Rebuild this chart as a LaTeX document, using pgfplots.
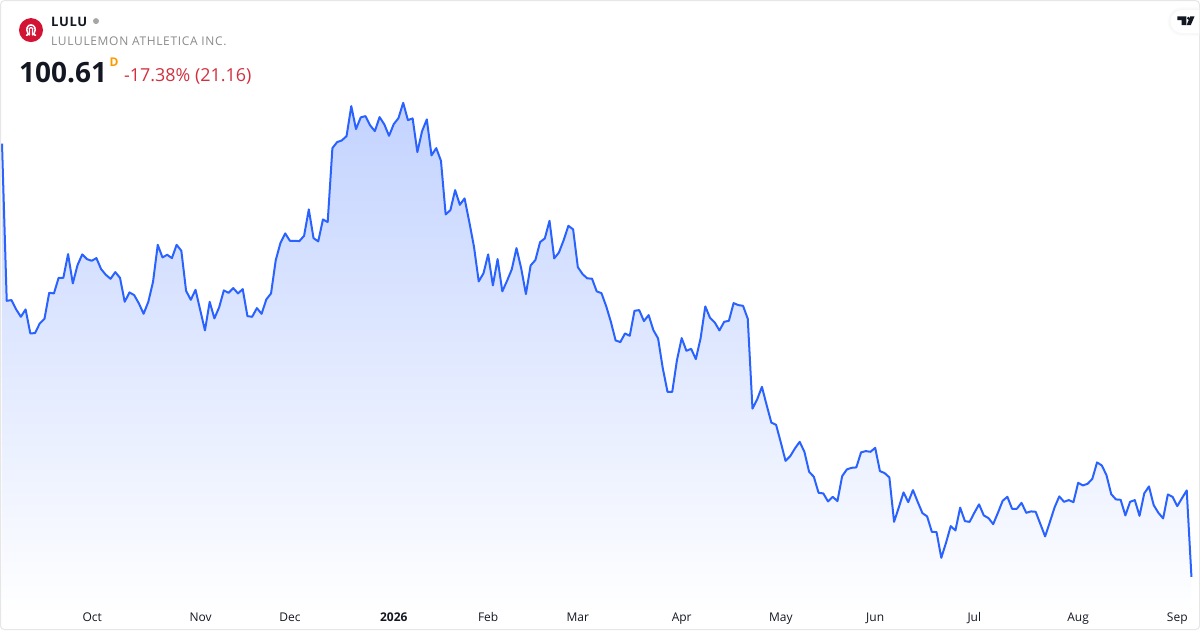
\documentclass[border=0pt]{standalone}
\usepackage{fontspec}
\setmainfont{Open Sans}
\newfontfamily\spaced[LetterSpace=5.5]{Open Sans}
\newfontfamily\spacedbold[LetterSpace=5,BoldFont={Open Sans Bold}]{Open Sans}
\usepackage{pgfplots}
\usepackage{pgfplotstable}
\pgfplotsset{compat=1.18}
\definecolor{tvblue}{HTML}{2962FF}
\definecolor{tvtop}{HTML}{C3D3FF}
\definecolor{tvtext}{HTML}{131722}
\definecolor{tvred}{HTML}{D2303F}
\definecolor{tvgray}{HTML}{8A8A8A}
\definecolor{tvorange}{HTML}{FF9800}
\definecolor{lulured}{HTML}{D31334}
\definecolor{frameg}{HTML}{E6E6E6}
\pgfplotstableread[row sep=\\]{
i y\\
0 143.5\\1 300.7\\2 300\\3 309.3\\4 316.7\\5 309.3\\6 333.3\\7 333\\8 323.3\\9 318.7\\
10 292.7\\11 293.3\\12 277.7\\13 277.7\\14 254\\15 283.3\\16 265\\17 254.3\\18 259\\19 260.7\\
20 258\\21 269\\22 274.7\\23 278.7\\24 272\\25 277.7\\26 301.7\\27 292.3\\28 295\\29 303.3\\
30 313.7\\31 301.7\\32 281.7\\33 244.7\\34 257.3\\35 254.7\\36 258\\37 244.7\\38 250.7\\39 290.7\\
40 299.7\\41 289.7\\42 310\\43 330.3\\44 301.7\\45 318.3\\46 307.3\\47 290.3\\48 292.7\\49 288\\
50 293.3\\51 289\\52 316\\53 316.7\\54 308\\55 313.7\\56 299.3\\57 293.3\\58 260\\59 242.7\\
60 233.3\\61 240.7\\62 240.7\\63 241\\64 235.7\\65 209.3\\66 238\\67 241.3\\68 219.3\\69 222\\
70 148\\71 142\\72 140.3\\73 136\\74 106\\75 129\\76 117.3\\77 116\\78 125.3\\79 131\\
80 117\\81 124.3\\82 135.7\\83 124\\84 118\\85 102.7\\86 120\\87 118.3\\88 152\\89 131\\
90 119.3\\91 155.3\\92 148\\93 160.7\\94 214.3\\95 210\\96 190\\97 204.7\\98 198.3\\99 221.7\\
100 246.7\\101 281.3\\102 273.3\\103 254.3\\104 285.3\\105 259\\106 291.3\\107 280.7\\108 269.3\\109 248\\
110 268.3\\111 294\\112 265.3\\113 260\\114 242\\115 238.3\\116 220.7\\117 258.3\\118 252.3\\119 240\\
120 225.7\\121 229.3\\122 267\\123 274\\124 278.3\\125 278.5\\126 291.3\\127 293\\128 306\\129 321.7\\
130 340.3\\131 342\\132 333.3\\133 335.7\\134 310.7\\135 310\\136 321\\137 315\\138 330\\139 338.3\\
140 368.3\\141 391.7\\142 391.7\\143 360\\144 338\\145 350.7\\146 348.7\\147 359\\148 338.3\\149 306.3\\
150 317.7\\151 322.3\\152 330.3\\153 321.7\\154 320.7\\155 303\\156 305\\157 305.7\\158 318.7\\159 408.5\\
160 399.2\\161 386.7\\162 405\\163 422.5\\164 424.7\\165 442.3\\166 460.7\\167 456\\168 448.3\\169 441.7\\
170 451.7\\171 471.7\\172 476.7\\173 492.7\\174 493.3\\175 501.3\\176 496.7\\177 501\\178 476\\179 469.3\\
180 467.7\\181 467.3\\182 452.3\\183 451\\184 451.7\\185 447.7\\186 471\\187 473\\188 477.3\\189 521.7\\
190 507.3\\191 492.3\\192 502\\193 490\\194 501.7\\195 513\\196 516.3\\197 531.7\\198 532\\199 557.7\\
200 542.7\\201 526\\202 530.3\\203 507.5\\204 521\\205 521.8\\206 512.7\\207 504.2\\208 515.3\\209 518\\
210 524\\211 512.7\\212 500.7\\213 496.7\\214 508.7\\215 508.7\\216 502.7\\217 512.7\\218 511.3\\219 511.7\\
220 524\\221 536.3\\222 522\\223 507.3\\224 496.3\\225 501.7\\226 500\\227 502\\228 482.7\\229 485.3\\
230 483.7\\231 478.7\\232 462.3\\233 465.3\\234 475\\235 494\\236 499.3\\237 499.7\\238 515.3\\239 501.7\\
240 500\\241 515.7\\242 493.3\\243 486.3\\244 505\\245 512.7\\246 518.3\\247 494.3\\248 496.7\\249 506\\
250 498\\251 490.3\\252 576.7\\
}\lulu
\begin{document}
\begin{tikzpicture}
\begin{axis}[
  scale only axis, width=1200pt, height=630pt,
  xmin=-0.4237, xmax=253.81, ymin=0, ymax=630, y dir=reverse,
  axis line style={draw=none}, major tick length=0pt, ymajorticks=false,
  xtick={19.1,42.1,61,83,103,122,144,165,185,206,228,249},
  xticklabels={Oct,Nov,Dec,\textbf{2026},Feb,Mar,Apr,May,Jun,Jul,Aug,Sep},
  x tick label style={font=\fontsize{12}{14}\selectfont, text=tvtext, anchor=base, yshift=8.5pt},
  clip=true, axis on top=true,
]
\addplot[draw=none, top color=tvtop, bottom color=white, forget plot] table[x=i,y=y]{\lulu} -- (axis cs:252,615) -- (axis cs:0,615) -- cycle;
\addplot[tvblue, line width=2pt, line join=round, mark=none] table[x=i,y=y]{\lulu};
\end{axis}
\begin{scope}[shift={(0,630pt)}, x=1pt, y=-1pt]
  \draw[frameg, line width=1pt, rounded corners=4pt] (0.5,0.5) rectangle (1199.5,629.5);
  % logo
  \fill[lulured] (31,30) circle (12);
  \draw[white, line width=1.5pt, line cap=round] (26.5,35.2) .. controls (28.5,35) and (28.8,34) .. (27.7,32.5)
     .. controls (25.5,29) and (27.5,24.8) .. (31,24.8) .. controls (34.5,24.8) and (36.5,29) .. (34.3,32.5)
     .. controls (33.2,34) and (33.5,35) .. (35.5,35.2);
  \draw[white, line width=1.2pt, line cap=round] (29.5,35) .. controls (30.2,32) and (29,30) .. (29.3,28.5)
     .. controls (29.6,27) and (32.4,27) .. (32.7,28.5) .. controls (33,30) and (31.8,32) .. (32.5,35);
  % header
  \node[anchor=base west, inner sep=0pt, text=tvtext, font=\fontsize{13}{15}\selectfont\spacedbold\bfseries] at (51,26) {LULU};
  \fill[gray!70] (96,21) circle (3);
  \node[anchor=base west, inner sep=0pt, text=tvgray, font=\fontsize{12}{14}\selectfont\spaced] at (51,45) {LULULEMON ATHLETICA INC.};
  \node[anchor=base west, inner sep=0pt, text=tvtext, font=\fontsize{28}{32}\selectfont\bfseries] at (19,82) {100.61};
  \node[anchor=base west, inner sep=0pt, text=tvorange, font=\fontsize{12}{14}\selectfont\bfseries] at (109.5,66) {D};
  \node[anchor=base west, inner sep=0pt, text=tvred, font=\fontsize{17.9}{22}\selectfont] at (124,81) {-17.38\% (21.16)};
  % badge
  \foreach \o/\c in {3/gray!2,2/gray!4,1/gray!6}{
    \fill[\c] (1199,10-\o) -- (1182,10-\o) arc[start angle=270,end angle=90,radius=11.5+\o] -- (1199,33+\o) -- cycle;}
  \fill[white] (1199,10) -- (1182,10) arc[start angle=270,end angle=90,radius=11.5] -- (1199,33) -- cycle;
  % TradingView mark
  \fill[tvtext] (1177.3,16.3) -- (1186.3,16.3) -- (1186.3,25) -- (1181.5,25) -- (1181.5,20) -- (1177.3,20) -- cycle;
  \fill[tvtext] (1188.4,18.2) circle (1.6);
  \fill[tvtext] (1190.2,16.3) -- (1194.5,16.3) -- (1190.8,25) -- (1186.6,25) -- cycle;
\end{scope}
\end{tikzpicture}
\end{document}
